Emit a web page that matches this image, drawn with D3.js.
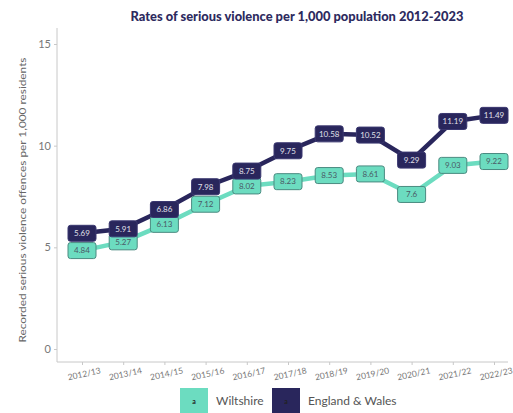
<!DOCTYPE html>
<html>
<head>
<meta charset="utf-8">
<script src="https://cdn.jsdelivr.net/npm/d3@7"></script>
<style>
  body { margin: 0; background: #fff; }
  svg { display: block; }
</style>
</head>
<body>
<script>
const years = ["2012/13", "2013/14", "2014/15", "2015/16", "2016/17", "2017/18",
  "2018/19", "2019/20", "2020/21", "2021/22", "2022/23"];
const wiltshire = [4.84, 5.27, 6.13, 7.12, 8.02, 8.23, 8.53, 8.61, 7.6, 9.03, 9.22];
const englandWales = [5.69, 5.91, 6.86, 7.98, 8.75, 9.75, 10.58, 10.52, 9.29, 11.19, 11.49];
const yTicks = [0, 5, 10, 15];
const seriesNames = ["Wiltshire", "England & Wales"];

const width = 513, height = 413;
const teal = "#6cdcc0", navy = "#29265c";

const svg = d3.select("body").append("svg")
  .attr("width", width).attr("height", height);

const x = d3.scalePoint().domain(years).range([82, 494]);
const y = d3.scaleLinear().domain([0, 15]).range([349, 44]);

// title
svg.append("text")
  .attr("x", 297).attr("y", 21)
  .attr("text-anchor", "middle")
  .attr("font-family", "Lato, sans-serif")
  .attr("font-weight", "900")
  .attr("font-size", 12.5)
  .attr("textLength", 333)
  .attr("lengthAdjust", "spacingAndGlyphs")
  .attr("fill", "#2d2a5e")
  .text("Rates of serious violence per 1,000 population 2012-2023");

// axes
const axisColor = "#c8c8c8";
const yAxis = svg.append("g")
  .attr("transform", "translate(57,0)")
  .call(d3.axisLeft(y).tickValues(yTicks).tickSize(3).tickPadding(3));
yAxis.select(".domain").attr("d", "M0,28V362");

const xAxis = svg.append("g")
  .attr("transform", "translate(0,362)")
  .call(d3.axisBottom(x).tickSize(3).tickPadding(2));
xAxis.select(".domain").attr("d", "M57,0H508");
xAxis.selectAll(".tick text")
  .attr("text-anchor", "middle")
  .attr("transform", "translate(0,4) rotate(-12)");

[yAxis, xAxis].forEach(g => {
  g.selectAll(".domain, .tick line").attr("stroke", axisColor);
  g.selectAll(".tick text")
    .attr("fill", "#777")
    .attr("font-family", "Lato, sans-serif");
});
yAxis.selectAll(".tick text").attr("font-size", 11);
xAxis.selectAll(".tick text").attr("font-size", 8.5);

// y axis title
svg.append("text")
  .attr("transform", "translate(26,200) rotate(-90)")
  .attr("text-anchor", "middle")
  .attr("font-family", "Lato, sans-serif")
  .attr("font-size", 10)
  .attr("textLength", 285)
  .attr("lengthAdjust", "spacingAndGlyphs")
  .attr("fill", "#666")
  .text("Recorded serious violence offences per 1,000 residents");

// lines and labels
const series = [
  { name: seriesNames[0], values: wiltshire, color: teal, textColor: "#4a5a66", border: "#4a8a80" },
  { name: seriesNames[1], values: englandWales, color: navy, textColor: "#e0e0ea", border: "#3a3770" }
];

const line = d3.line().x((d, i) => x(years[i])).y(d => y(d));

series.forEach(s => {
  svg.append("path")
    .datum(s.values)
    .attr("d", line)
    .attr("fill", "none")
    .attr("stroke", s.color)
    .attr("stroke-width", 4.5);
});

series.forEach(s => {
  const g = svg.append("g").selectAll("g")
    .data(s.values).join("g")
    .attr("transform", (d, i) => `translate(${x(years[i])},${y(d)})`);
  g.append("rect")
    .attr("x", -14).attr("y", -8)
    .attr("width", 28).attr("height", 16)
    .attr("rx", 2.5)
    .attr("fill", s.color)
    .attr("stroke", s.border)
    .attr("stroke-width", 1);
  g.append("text")
    .attr("text-anchor", "middle")
    .attr("dy", "0.35em")
    .attr("font-family", "Lato, sans-serif")
    .attr("font-size", 8)
    .attr("fill", s.textColor)
    .text(d => d);
});

// legend
const legendItems = [
  { name: seriesNames[0], color: teal, x: 180 },
  { name: seriesNames[1], color: navy, x: 272 }
];
const lg = svg.append("g").selectAll("g").data(legendItems).join("g")
  .attr("transform", d => `translate(${d.x},388)`);
lg.append("rect")
  .attr("width", 28).attr("height", 25)
  .attr("fill", d => d.color);
lg.append("text")
  .attr("x", 14).attr("y", 16)
  .attr("text-anchor", "middle")
  .attr("font-family", "Lato, sans-serif")
  .attr("font-size", 7)
  .attr("font-weight", "bold")
  .attr("fill", "#222")
  .text("a");
lg.append("text")
  .attr("x", 36).attr("y", 17)
  .attr("font-family", "Lato, sans-serif")
  .attr("font-size", 12)
  .attr("fill", "#555")
  .text(d => d.name);
</script>
</body>
</html>
